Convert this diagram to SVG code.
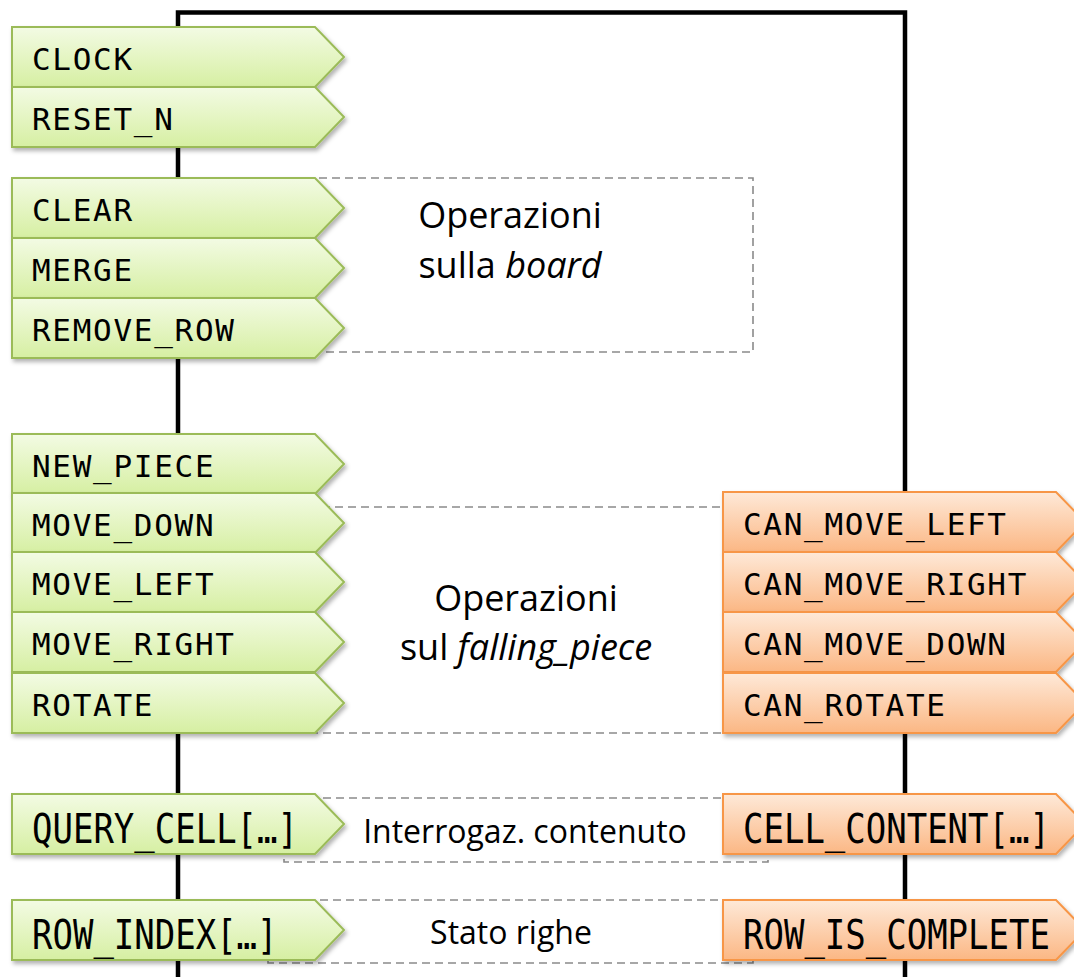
<svg xmlns="http://www.w3.org/2000/svg" width="1074" height="977" viewBox="0 0 1074 977">
  <defs>
    <linearGradient id="gGreen" x1="0" y1="0" x2="0" y2="1">
      <stop offset="0" stop-color="#f3fbe4"/>
      <stop offset="1" stop-color="#d6efa2"/>
    </linearGradient>
    <linearGradient id="gOrange" x1="0" y1="0" x2="0" y2="1">
      <stop offset="0" stop-color="#fee9d8"/>
      <stop offset="1" stop-color="#fbb784"/>
    </linearGradient>
    <filter id="shadow" x="-5%" y="-20%" width="115%" height="150%">
      <feDropShadow dx="2" dy="3" stdDeviation="2" flood-color="#000" flood-opacity="0.3"/>
    </filter>
    <!-- pointed signal tag, 60 px tall -->
    <path id="tagIn" d="M0,0 H303 L332,30 L303,60 H0 Z"/>
    <path id="tagOut" d="M0,0 H333 L362,30 L333,60 H0 Z"/>
  </defs>
  <style>
    .frame { fill: none; stroke: #000; stroke-width: 4.5; }
    .group { fill: none; stroke: #8a8a8a; stroke-width: 1.6; stroke-dasharray: 8 5; }
    .in { fill: url(#gGreen); stroke: #9bbb59; stroke-width: 2; filter: url(#shadow); }
    .out { fill: url(#gOrange); stroke: #f79646; stroke-width: 2; filter: url(#shadow); }
    .sig { font-family: "DejaVu Sans Mono", "Liberation Mono", monospace; font-size: 31px; letter-spacing: 1.7px; fill: #000; }
    .sigBig { font-family: "DejaVu Sans Mono", "Liberation Mono", monospace; font-size: 34px; fill: #000; }
    .note { font-family: "Open Sans", "Noto Sans", sans-serif; font-size: 36px; fill: #000; text-anchor: middle; }
    .noteSm { font-family: "Open Sans", "Noto Sans", sans-serif; font-size: 32px; fill: #000; text-anchor: middle; }
    .it { font-style: italic; }
  </style>

  <!-- entity outline (open at the bottom) -->
  <g id="entity">
    <path class="frame" d="M178,977 V12.5 H905 V977"/>
  </g>

  <!-- dashed groupings of related signals -->
  <g id="groups">
    <g id="grp-board">
      <rect class="group" x="267" y="178" width="486" height="174"/>
      <text class="note" x="510" y="228">Operazioni</text>
      <text class="note" x="510" y="278">sulla <tspan class="it">board</tspan></text>
    </g>
    <g id="grp-falling">
      <rect class="group" x="283" y="507" width="483" height="226"/>
      <text class="note" x="526" y="611">Operazioni</text>
      <text class="note" x="526" y="660">sul <tspan class="it">falling_piece</tspan></text>
    </g>
    <g id="grp-query">
      <rect class="group" x="284" y="798" width="484" height="64"/>
      <text class="noteSm" x="525" y="843">Interrogaz. contenuto</text>
    </g>
    <g id="grp-rows">
      <rect class="group" x="268" y="900" width="485" height="63"/>
      <text class="noteSm" x="511" y="944">Stato righe</text>
    </g>
  </g>

  <!-- input signals -->
  <g id="in-clock" transform="translate(12,27)"><use href="#tagIn" class="in"/><text class="sig" x="20" y="43">CLOCK</text></g>
  <g id="in-reset" transform="translate(12,87)"><use href="#tagIn" class="in"/><text class="sig" x="20" y="43">RESET_N</text></g>

  <g id="in-clear" transform="translate(12,178)"><use href="#tagIn" class="in"/><text class="sig" x="20" y="43">CLEAR</text></g>
  <g id="in-merge" transform="translate(12,238)"><use href="#tagIn" class="in"/><text class="sig" x="20" y="43">MERGE</text></g>
  <g id="in-remove-row" transform="translate(12,298)"><use href="#tagIn" class="in"/><text class="sig" x="20" y="43">REMOVE_ROW</text></g>

  <g id="in-new-piece" transform="translate(12,434)"><use href="#tagIn" class="in"/><text class="sig" x="20" y="43">NEW_PIECE</text></g>
  <g id="in-move-down" transform="translate(12,493)"><use href="#tagIn" class="in"/><text class="sig" x="20" y="43">MOVE_DOWN</text></g>
  <g id="in-move-left" transform="translate(12,552)"><use href="#tagIn" class="in"/><text class="sig" x="20" y="43">MOVE_LEFT</text></g>
  <g id="in-move-right" transform="translate(12,612)"><use href="#tagIn" class="in"/><text class="sig" x="20" y="43">MOVE_RIGHT</text></g>
  <g id="in-rotate" transform="translate(12,673)"><use href="#tagIn" class="in"/><text class="sig" x="20" y="43">ROTATE</text></g>

  <!-- indexed signals use taller lettering -->
  <g id="in-query-cell" transform="translate(12,794)"><use href="#tagIn" class="in"/><text class="sigBig" transform="translate(20,49) scale(1,1.18)">QUERY_CELL[…]</text></g>
  <g id="in-row-index" transform="translate(12,900)"><use href="#tagIn" class="in"/><text class="sigBig" transform="translate(20,49) scale(1,1.18)">ROW_INDEX[…]</text></g>

  <!-- output signals -->
  <g id="out-can-move-left" transform="translate(723,492)"><use href="#tagOut" class="out"/><text class="sig" x="20" y="43">CAN_MOVE_LEFT</text></g>
  <g id="out-can-move-right" transform="translate(723,552)"><use href="#tagOut" class="out"/><text class="sig" x="20" y="43">CAN_MOVE_RIGHT</text></g>
  <g id="out-can-move-down" transform="translate(723,612)"><use href="#tagOut" class="out"/><text class="sig" x="20" y="43">CAN_MOVE_DOWN</text></g>
  <g id="out-can-rotate" transform="translate(723,673)"><use href="#tagOut" class="out"/><text class="sig" x="20" y="43">CAN_ROTATE</text></g>

  <g id="out-cell-content" transform="translate(723,794)"><use href="#tagOut" class="out"/><text class="sigBig" transform="translate(20,49) scale(1,1.18)">CELL_CONTENT[…]</text></g>
  <g id="out-row-complete" transform="translate(723,900)"><use href="#tagOut" class="out"/><text class="sigBig" transform="translate(20,49) scale(1,1.18)">ROW_IS_COMPLETE</text></g>
</svg>
